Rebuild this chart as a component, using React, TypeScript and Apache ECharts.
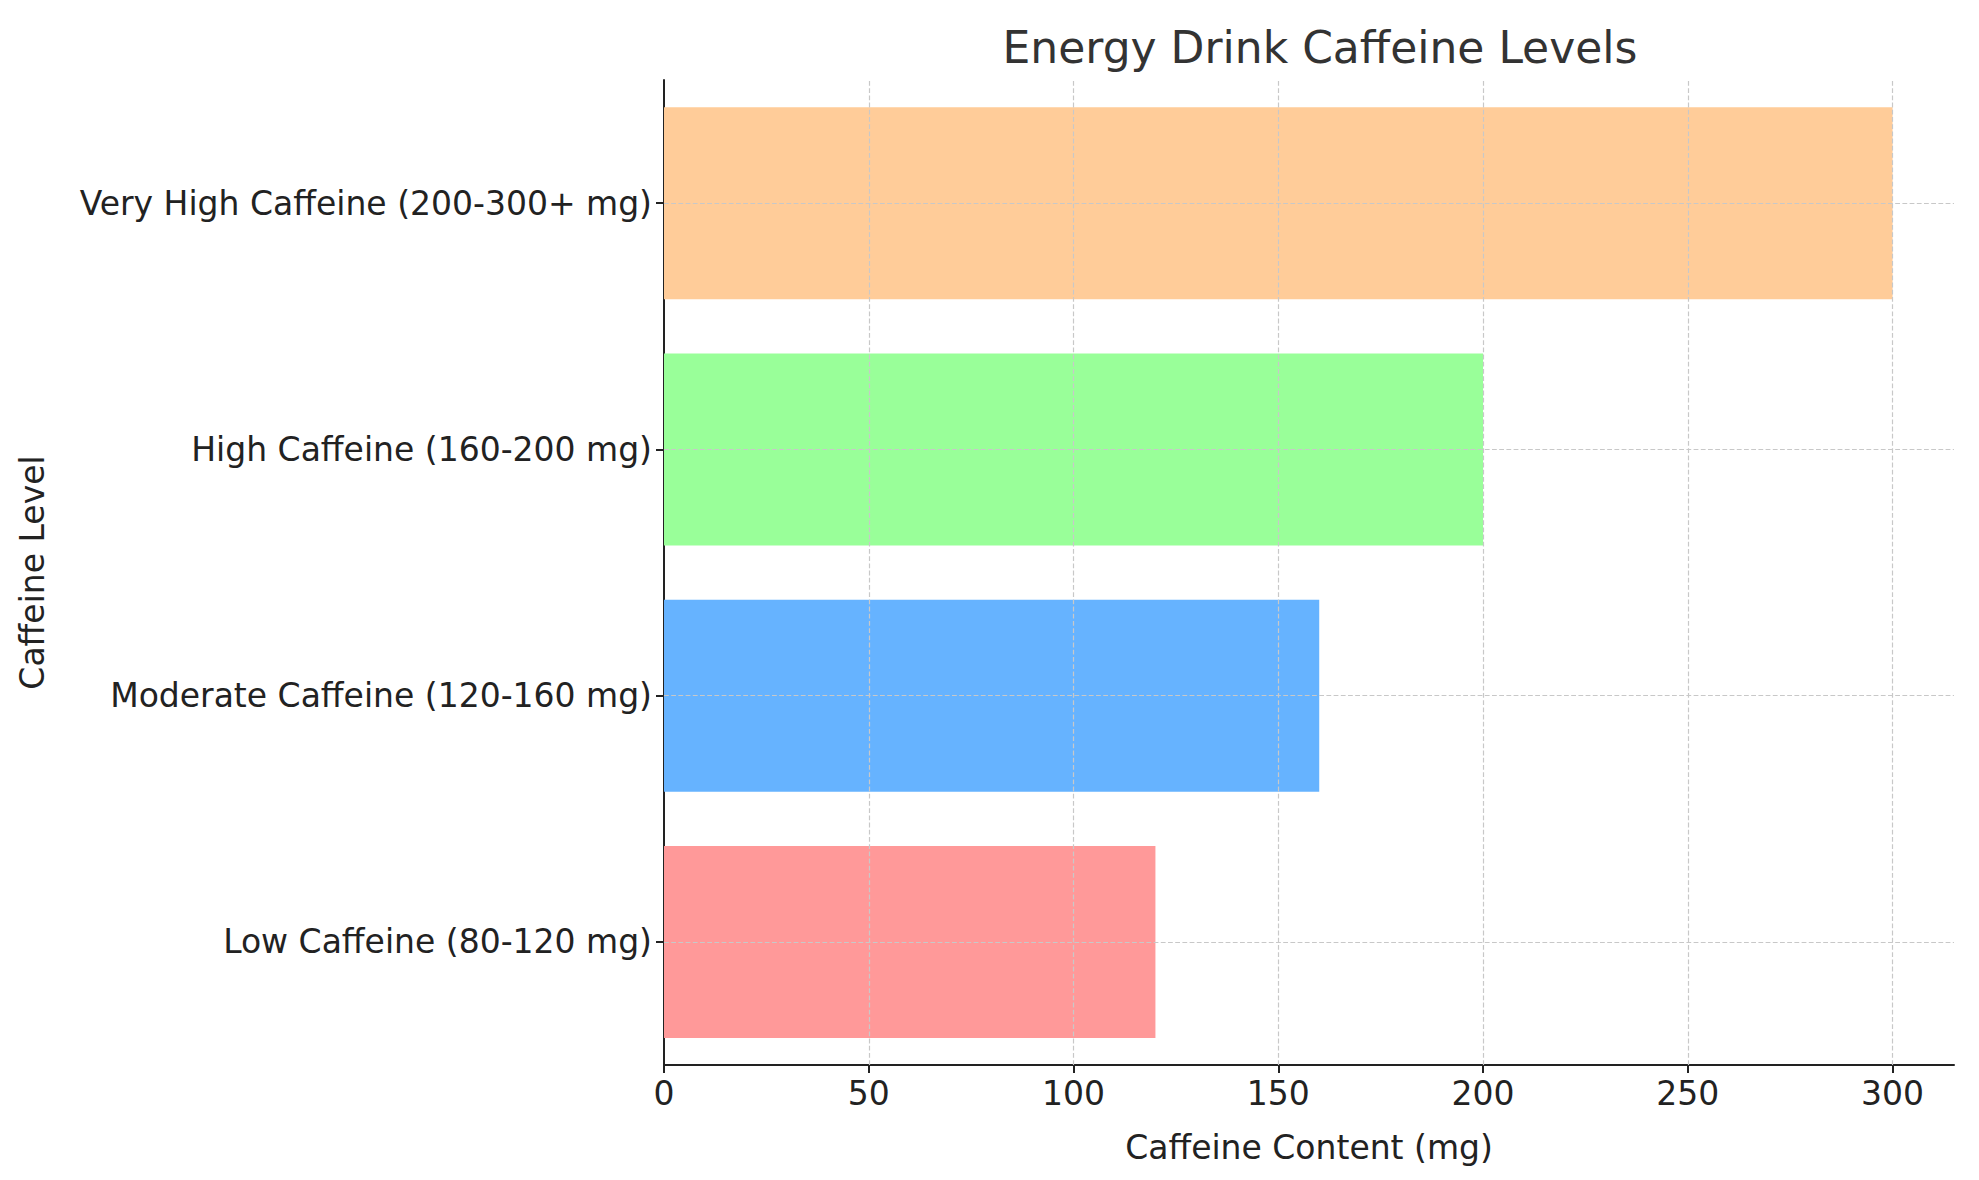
import React, { useEffect, useRef } from "react";
import * as echarts from "echarts";

const categories = [
  "Low Caffeine (80-120 mg)",
  "Moderate Caffeine (120-160 mg)",
  "High Caffeine (160-200 mg)",
  "Very High Caffeine (200-300+ mg)",
];
const values = [120, 160, 200, 300];
const colors = ["#ff9999", "#66b3ff", "#99ff99", "#ffcc99"];
const xTicks = [50, 100, 150, 200, 250, 300];

const font = "DejaVu Sans";
const gridStyle = { color: "#c8c8c8", type: "dashed", width: 1.2 };

const App = () => {
  const chartRef = useRef<HTMLDivElement>(null);

  useEffect(() => {
    if (!chartRef.current) return;
    const chart = echarts.init(chartRef.current, null, { renderer: "svg" });
    chart.setOption({
      animation: false,
      textStyle: { fontFamily: font },
      title: {
        text: "Energy Drink Caffeine Levels",
        left: 1307,
        top: 12,
        textAlign: "center",
        textStyle: { fontSize: 44, fontWeight: "normal", color: "#333", fontFamily: font },
      },
      grid: { left: 653, right: 17, top: 72, bottom: 107 },
      xAxis: {
        type: "value",
        min: 0,
        max: 315,
        interval: 50,
        name: "Caffeine Content (mg)",
        nameLocation: "middle",
        nameGap: 66,
        nameTextStyle: { fontSize: 33, color: "#222", fontFamily: font },
        axisLine: { show: true, lineStyle: { color: "#222", width: 2 } },
        axisTick: { show: true, length: 8, lineStyle: { color: "#222", width: 2 } },
        axisLabel: { fontSize: 33, color: "#222", margin: 12, showMaxLabel: false },
        splitLine: { show: false },
      },
      yAxis: {
        type: "category",
        data: categories,
        name: "Caffeine Level",
        nameLocation: "middle",
        nameGap: 615,
        nameRotate: 90,
        nameTextStyle: { fontSize: 33, color: "#222", fontFamily: font },
        axisLine: { show: true, lineStyle: { color: "#222", width: 2 } },
        axisTick: { show: true, alignWithLabel: true, length: 8, lineStyle: { color: "#222", width: 2 } },
        axisLabel: { fontSize: 33, color: "#222", margin: 12 },
        splitLine: { show: false },
      },
      series: [
        {
          type: "line",
          data: [],
          z: 1,
          silent: true,
          markLine: {
            silent: true,
            symbol: "none",
            label: { show: false },
            lineStyle: gridStyle,
            data: [
              ...xTicks.map((v) => ({ xAxis: v })),
              ...categories.map((c) => ({ yAxis: c })),
            ],
          },
        },
        {
          type: "bar",
          barWidth: 192,
          z: 3,
          data: values.map((v, i) => ({ value: v, itemStyle: { color: colors[i] } })),
        },
      ],
    });
    return () => chart.dispose();
  }, []);

  return <div ref={chartRef} style={{ width: 1963, height: 1164 }} />;
};

export default App;
